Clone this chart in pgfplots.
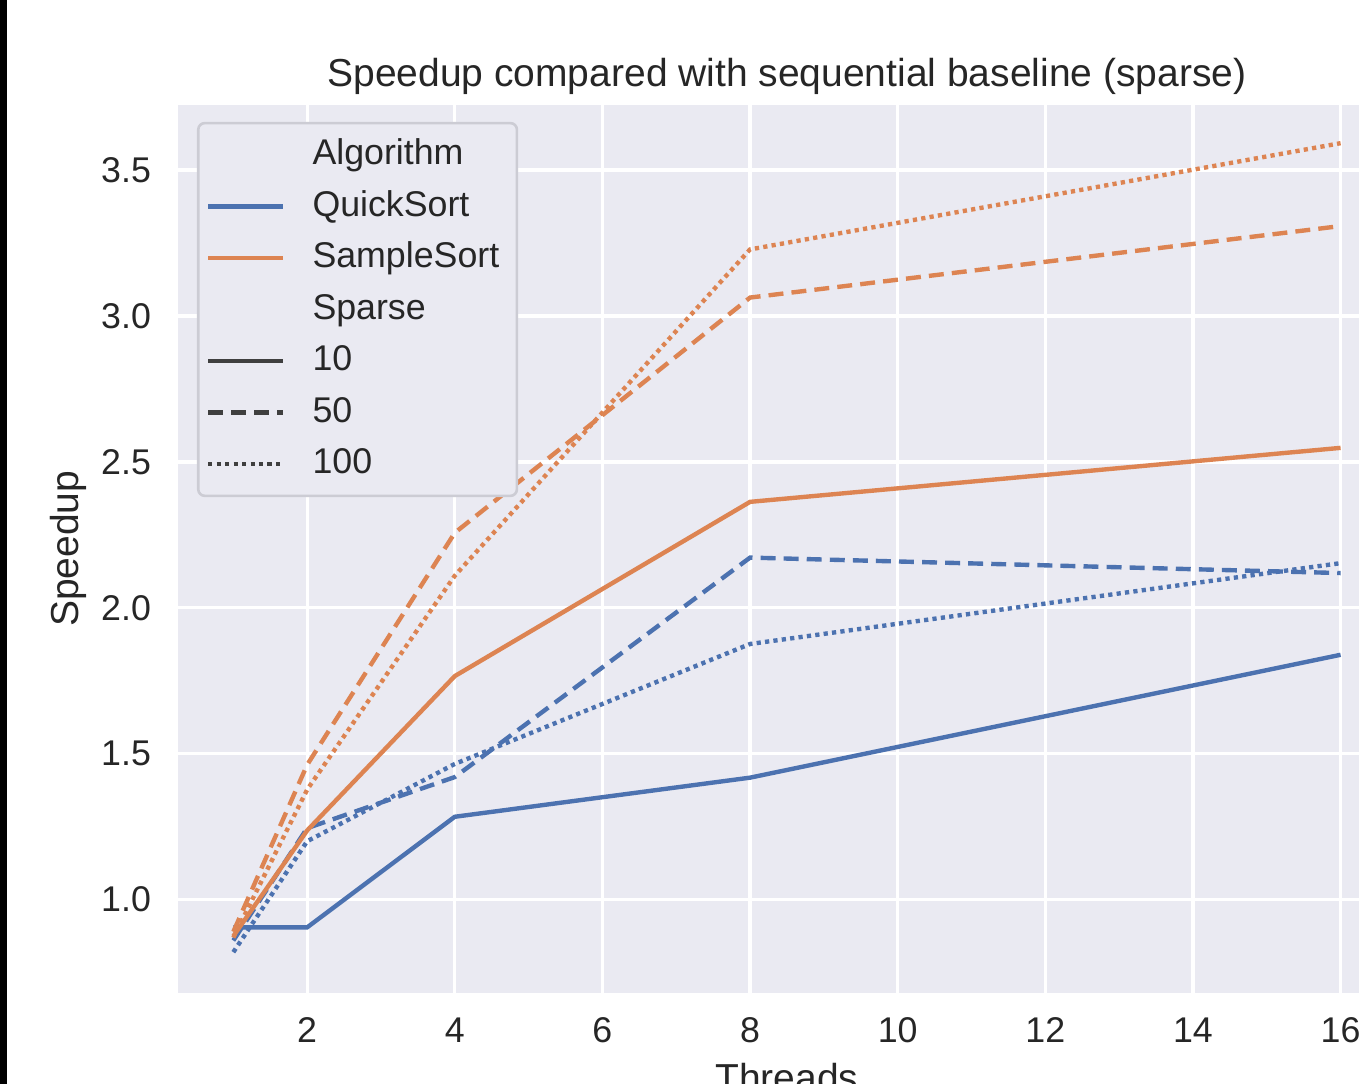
\documentclass[border=0pt]{standalone}
\usepackage{pgfplots}
\pgfplotsset{compat=1.18}
\usepackage{fontspec}
\setmainfont{Liberation Sans}
\definecolor{bgc}{HTML}{EAEAF2}
\definecolor{sbblue}{HTML}{4C72B0}
\definecolor{sborange}{HTML}{DD8452}
\definecolor{txt}{HTML}{262626}
\definecolor{stylegray}{HTML}{3F3F3F}
\definecolor{legedge}{HTML}{CCCCD4}
\tikzset{
  dashA/.style={dash pattern=on 4.6pt off 2.5pt},
  dotA/.style={dash pattern=on 1.3pt off 1.3pt},
}
\begin{document}
\begin{tikzpicture}
\useasboundingbox (0,0) rectangle (418.2pt,333.5pt);
\begin{axis}[
  at={(54.77pt,28.0pt)}, anchor=south west,
  scale only axis, width=374.8pt, height=273.2pt,
  xmin=0.25, xmax=16.75, ymin=0.681, ymax=3.723,
  axis background/.style={fill=bgc},
  axis line style={draw=none},
  major tick length=0pt,
  grid=major, grid style={white, line width=1pt},
  xtick={2,4,6,8,10,12,14,16},
  ytick={1.0,1.5,2.0,2.5,3.0,3.5},
  y tick label style={/pgf/number format/fixed, /pgf/number format/fixed zerofill, /pgf/number format/precision=1},
  /pgf/number format/assume math mode=true,
  ticklabel style={font=\fontsize{11}{13}\selectfont, text=txt},
  xticklabel style={yshift=-4.2pt},
  yticklabel style={xshift=-4.8pt},
  title={Speedup compared with sequential baseline (sparse)},
  title style={font=\fontsize{12}{14}\selectfont, text=txt, at={(axis description cs:0.5,1.010)}, anchor=center, yshift=0pt},
  xlabel={Threads},
  xlabel style={font=\fontsize{12}{14}\selectfont, text=txt, at={(axis description cs:0.5,-0.095)}, anchor=center},
  ylabel={Speedup},
  ylabel style={font=\fontsize{12}{14}\selectfont, text=txt, at={(axis description cs:-0.09,0.5)}, anchor=center},
  legend cell align=left,
  legend image code/.code={\draw[#1] (0pt,0pt) -- (23pt,0pt);},
  legend style={at={(axis description cs:0.0156,0.981)}, anchor=north west,
    fill=bgc, draw=legedge, line width=0.8pt, rounded corners=2pt,
    font=\fontsize{11}{13}\selectfont, text=txt,
    inner xsep=2.4pt, inner ysep=4.3pt, row sep=4.85pt,
    nodes={inner sep=0pt, text height=8.5pt, text depth=2.5pt},
    /tikz/every odd column/.append style={column sep=8.4pt}},
]
% QuickSort
\addplot[sbblue, line width=1.35pt, forget plot] coordinates {(1,0.905)(2,0.905)(4,1.284)(8,1.418)(16,1.839)};
\addplot[sbblue, line width=1.35pt, dashA, forget plot] coordinates {(1,0.86)(2,1.245)(4,1.42)(8,2.172)(16,2.119)};
\addplot[sbblue, line width=1.35pt, dotA, forget plot] coordinates {(1,0.82)(2,1.20)(4,1.465)(8,1.876)(16,2.153)};
% SampleSort
\addplot[sborange, line width=1.35pt, forget plot] coordinates {(1,0.875)(2,1.237)(4,1.766)(8,2.363)(16,2.548)};
\addplot[sborange, line width=1.35pt, dashA, forget plot] coordinates {(1,0.89)(2,1.462)(4,2.257)(8,3.063)(16,3.308)};
\addplot[sborange, line width=1.35pt, dotA, forget plot] coordinates {(1,0.87)(2,1.377)(4,2.11)(8,3.228)(16,3.592)};
% legend
\addlegendimage{empty legend}
\addlegendentry{\makebox[60.5pt][l]{Algorithm}}
\addlegendimage{sbblue, line width=1.35pt}
\addlegendentry{QuickSort}
\addlegendimage{sborange, line width=1.35pt}
\addlegendentry{SampleSort}
\addlegendimage{empty legend}
\addlegendentry{Sparse}
\addlegendimage{stylegray, line width=1.35pt}
\addlegendentry{10}
\addlegendimage{stylegray, line width=1.35pt, dashA}
\addlegendentry{50}
\addlegendimage{stylegray, line width=1.35pt, dotA}
\addlegendentry{100}
\end{axis}
\fill[black] (0,0) rectangle (2.1pt,333.5pt);
\end{tikzpicture}
\end{document}
